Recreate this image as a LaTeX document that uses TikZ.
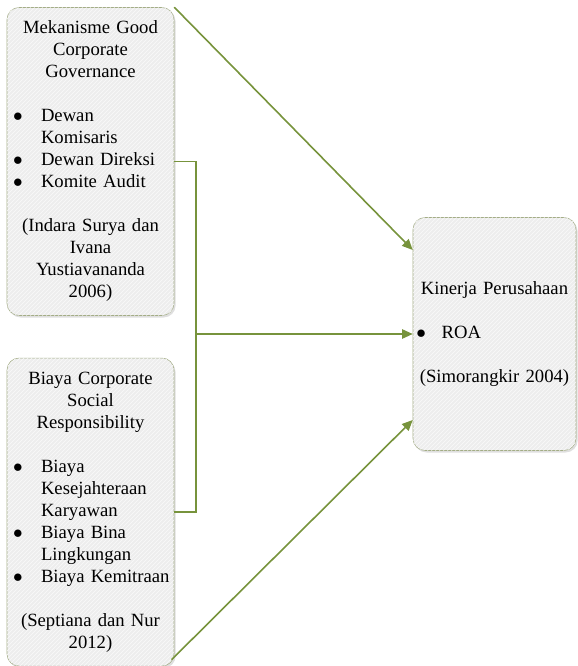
\documentclass[tikz,border=0pt]{standalone}
\usepackage{fontspec}
\setmainfont{Liberation Serif}
\usetikzlibrary{arrows.meta,shadows,patterns}
\definecolor{olivelink}{HTML}{77933C}
\definecolor{boxline}{HTML}{A3AC86}
\definecolor{boxfill}{HTML}{EDEDED}
\newcommand{\bul}[1]{\noindent\hbox to \hsize{\hbox to 19.5pt{\hspace*{-1.5pt}$\bullet$\hfil}#1\hfil}}
\newcommand{\cont}[1]{\noindent\hbox to \hsize{\hspace*{19.5pt}#1\hfil}}
\tikzstyle{factor box}=[
    draw = boxline,
    fill = boxfill,
    rounded corners = 9pt,
    drop shadow = {opacity=0.25, shadow xshift=1.2pt, shadow yshift=-1.5pt},
    postaction = {pattern=north east lines, pattern color=white!70!boxfill},
    inner xsep = 6pt,
    align = center,
    font = \fontsize{14}{16.5}\selectfont,
    text width = 113.25pt,
    minimum height = 231pt
]

\begin{document}
\begin{tikzpicture}[x=0.75pt, y=-0.75pt, node distance=262.9pt,
    olive line/.style = {draw=olivelink, line width=1.2pt},
    olive arrow/.style = {olive line, -{Triangle[length=8pt,width=7pt]}}]
        \useasboundingbox (0,0) rectangle (577,666);

        \node[factor box] (gcg) at (90.5,161.5) {Mekanisme Good\\ Corporate\\ Governance\\[16.5pt]
            \bul{Dewan}\\ \cont{Komisaris}\\ \bul{Dewan Direksi}\\ \bul{Komite Audit}\\[16.5pt]
            (Indara Surya dan\\ Ivana\\ Yustiavananda\\ 2006)};
        \node[factor box] (csr) [below of = gcg] {Biaya Corporate\\ Social\\ Responsibility\\[16.5pt]
            \bul{Biaya}\\ \cont{Kesejahteraan}\\ \cont{Karyawan}\\ \bul{Biaya Bina}\\ \cont{Lingkungan}\\ \bul{Biaya Kemitraan}\\[16.5pt]
            (Septiana dan Nur\\ 2012)};
        \node[factor box, text width=114.25pt, inner xsep=4pt, minimum height=174.75pt] (kinerja) at (494.5,334)
            {Kinerja Perusahaan\\[16.5pt] \bul{\hspace*{-2pt}ROA}\\[16.5pt] (Simorangkir 2004)};

        \draw[olive arrow] (gcg.north east) -- ([yshift=63pt]kinerja.west);
        \draw[olive line] (gcg.east) -- ++(21.5,0) coordinate (fork) |- (csr.east);
        \coordinate (join) at (fork |- kinerja.west);
        \draw[olive arrow] (join) -- (kinerja.west);
        \draw[olive arrow] ([shift={(-2pt,5pt)}]csr.south east) -- ([yshift=-64.5pt]kinerja.west);

    \end{tikzpicture}
\end{document}
